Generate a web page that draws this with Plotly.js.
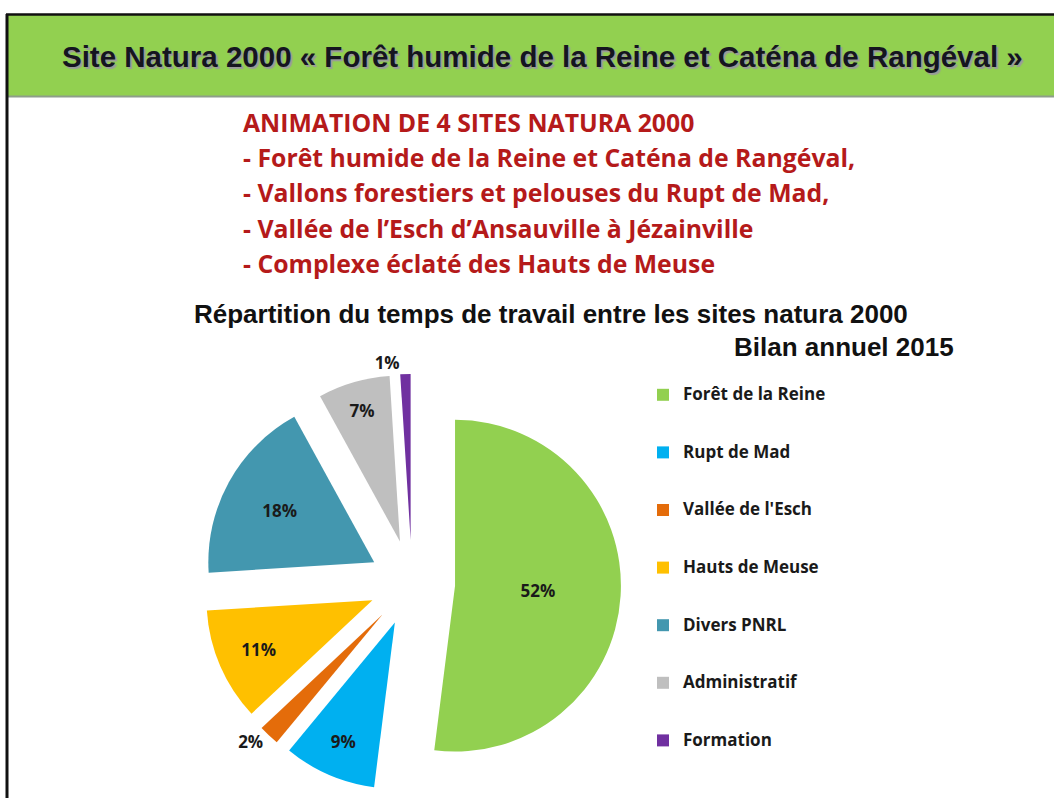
<!DOCTYPE html>
<html>
<head>
<meta charset="utf-8">
<script src="https://cdn.plot.ly/plotly-3.0.1.min.js"></script>
<style>
html,body{margin:0;padding:0;background:#fff;}
#chart{width:1054px;height:798px;}
</style>
</head>
<body>
<div id="chart"></div>
<script>
// ---- data ----
var categories = ["Forêt de la Reine", "Rupt de Mad", "Vallée de l'Esch", "Hauts de Meuse", "Divers PNRL", "Administratif", "Formation"];
var shares = [52, 9, 2, 11, 18, 7, 1];
var sliceColors = ["#92D050", "#00B0F0", "#E46C0A", "#FFC000", "#4397AF", "#BFBFBF", "#7030A0"];
var labelPositions = ["inside", "inside", "outside", "inside", "inside", "inside", "outside"];

var headerText = "Site Natura 2000 « Forêt humide de la Reine et Caténa de Rangéval »";
var introLines = [
  "ANIMATION DE 4 SITES NATURA 2000",
  "- Forêt humide de la Reine et Caténa de Rangéval,",
  "- Vallons forestiers et pelouses du Rupt de Mad,",
  "- Vallée de l’Esch d’Ansauville à Jézainville",
  "- Complexe éclaté des Hauts de Meuse"
];
var chartTitle = "Répartition du temps de travail entre les sites natura 2000";
var chartSubtitle = "Bilan annuel 2015";

// ---- helpers (pixel -> paper) ----
var W = 1054, H = 798;
function px(x){ return x / W; }
function py(y){ return 1 - y / H; }

// legend labels padded with blank lines to get the wide spacing of the original
var legendLabels = categories.map(function(c){
  return "\u00a0<br><span style=\"font-size:17px\">" + c + "</span><br>\u00a0";
});

var trace = {
  type: "pie",
  labels: legendLabels,
  values: shares,
  sort: false,
  direction: "clockwise",
  rotation: 0,
  pull: 0.26,
  marker: { colors: sliceColors, line: { width: 0 } },
  textinfo: "percent",
  textposition: labelPositions,
  insidetextorientation: "horizontal",
  textfont: { family: "Open Sans, sans-serif", size: 17, color: "#1a1a1a", weight: "bold" },
  domain: { x: [px(203), px(621)], y: [py(792), py(374)] },
  hoverinfo: "percent",
  showlegend: true
};

var annotations = [];
annotations.push({
  xref: "paper", yref: "paper", x: px(542), y: py(57), xanchor: "center", yanchor: "middle",
  text: headerText, showarrow: false,
  font: { family: "Liberation Sans, Arial, sans-serif", size: 29.5, color: "#15151f", weight: "bold", shadow: "2px 2px 1px #9a9a9a" }
});
introLines.forEach(function(line, i){
  annotations.push({
    xref: "paper", yref: "paper", x: px(241), y: py(122 + i * 35.2), xanchor: "left", yanchor: "middle",
    text: line, showarrow: false,
    font: { family: "Open Sans, sans-serif", size: 24.8, color: "#B51A1A", weight: "bold" }
  });
});
annotations.push({
  xref: "paper", yref: "paper", x: px(551), y: py(314), xanchor: "center", yanchor: "middle",
  text: chartTitle, showarrow: false,
  font: { family: "Liberation Sans, Arial, sans-serif", size: 26, color: "#111", weight: "bold" }
});
annotations.push({
  xref: "paper", yref: "paper", x: px(956), y: py(347), xanchor: "right", yanchor: "middle",
  text: chartSubtitle, showarrow: false,
  font: { family: "Liberation Sans, Arial, sans-serif", size: 26, color: "#111", weight: "bold" }
});

var shapes = [
  // green header band
  { type: "rect", xref: "paper", yref: "paper", x0: px(7), x1: px(1054), y0: py(96), y1: py(15), fillcolor: "#92D050", line: { width: 0 }, layer: "below" },
  // grey bottom line of header
  { type: "line", xref: "paper", yref: "paper", x0: px(7), x1: px(1054), y0: py(96.5), y1: py(96.5), line: { color: "#8E9E8A", width: 2 } },
  // top black border
  { type: "line", xref: "paper", yref: "paper", x0: px(6), x1: px(1054), y0: py(14.5), y1: py(14.5), line: { color: "#111", width: 2.5 } },
  // left black border
  { type: "line", xref: "paper", yref: "paper", x0: px(7), x1: px(7), y0: py(14), y1: py(798), line: { color: "#111", width: 3 } }
];

var layout = {
  width: W, height: H,
  margin: { l: 0, r: 0, t: 0, b: 0 },
  paper_bgcolor: "#ffffff",
  plot_bgcolor: "#ffffff",
  showlegend: true,
  legend: {
    x: px(643), y: py(361), xanchor: "left", yanchor: "top",
    font: { family: "Open Sans, sans-serif", size: 14, color: "#1a1a1a", weight: "bold" },
    bgcolor: "rgba(0,0,0,0)", traceorder: "normal", valign: "middle"
  },
  annotations: annotations,
  shapes: shapes
};

Plotly.newPlot("chart", [trace], layout, { displayModeBar: false, staticPlot: true });
</script>
</body>
</html>
